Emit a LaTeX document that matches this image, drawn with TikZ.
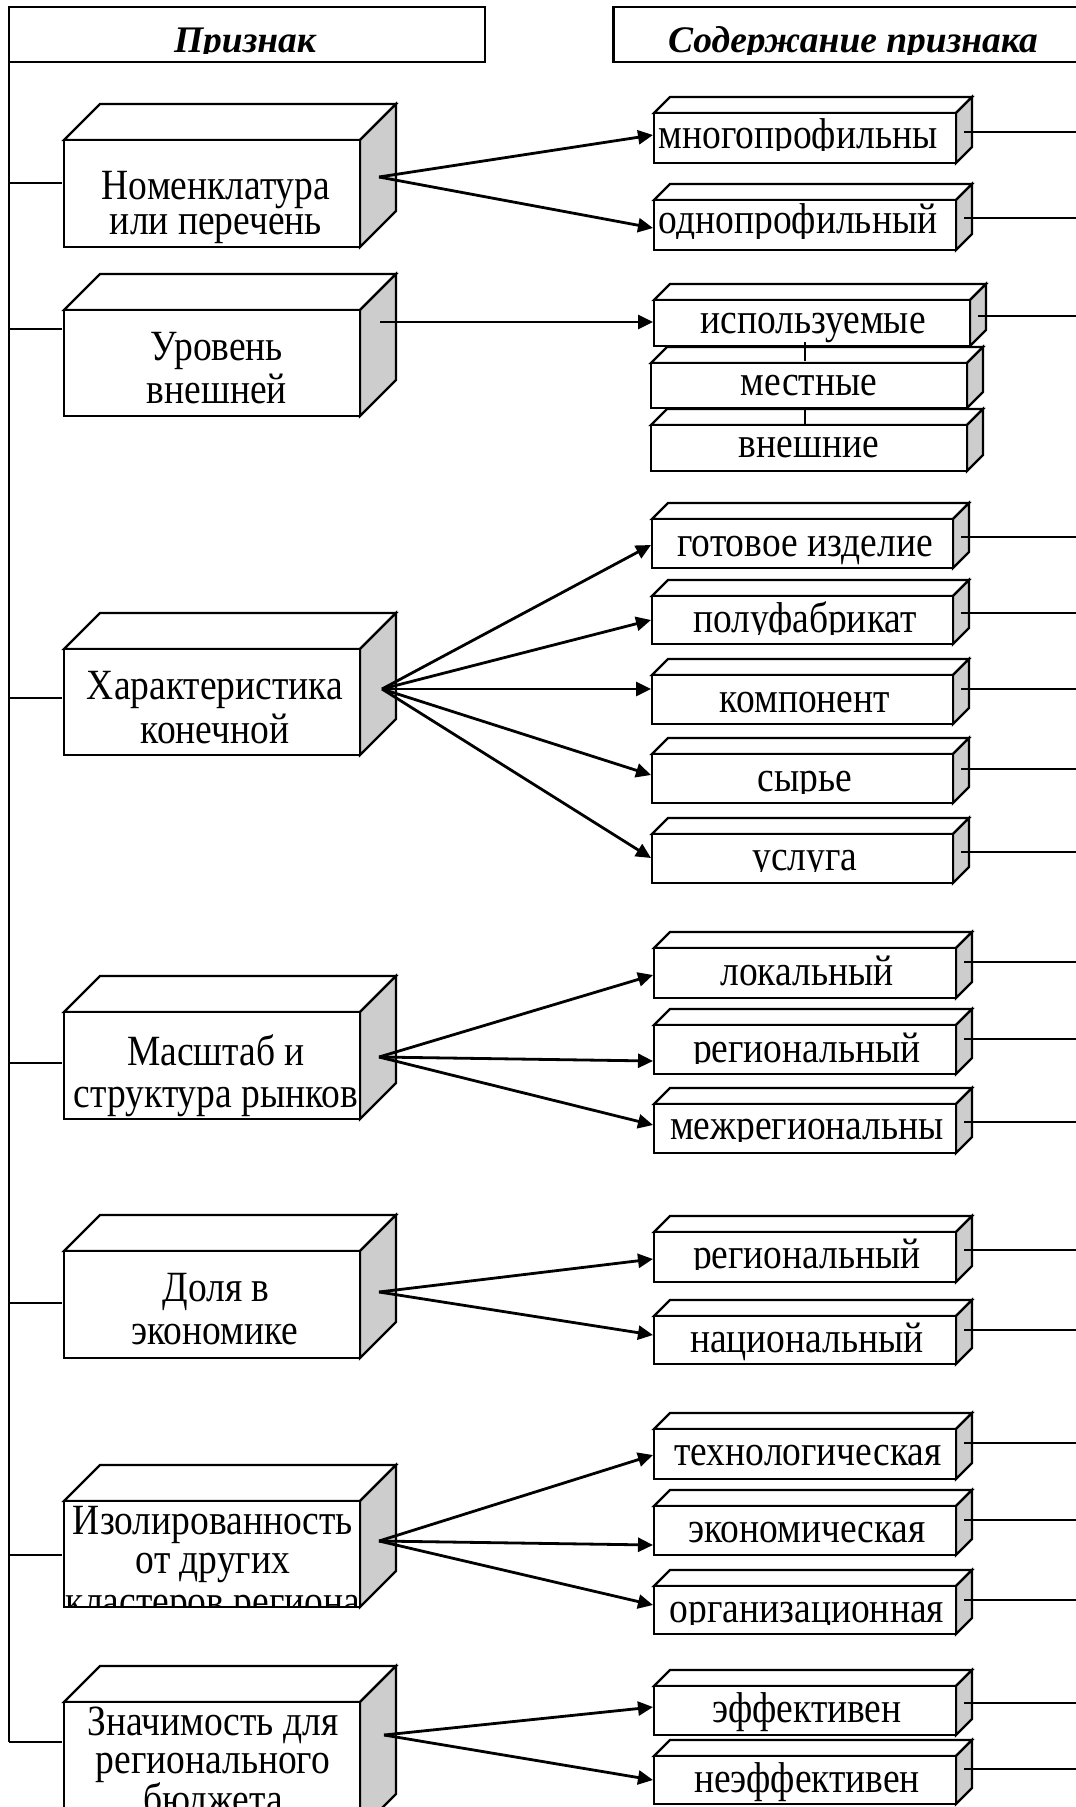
\documentclass[tikz,border=0pt]{standalone}
\usepackage{fontspec}
\setmainfont{Liberation Serif}
\usepackage{graphicx}
\usetikzlibrary{arrows.meta}
\definecolor{sidegray}{RGB}{205,205,205}
\newcommand\st[1]{\scalebox{1}[1.15]{#1}}
\newcommand\hst[1]{\scalebox{1}[1.0]{#1}}
% cube: x1, top, x2, bottom, depth
\newcommand\cube[5]{%
  \filldraw[box,fill=white] (#1,#2) -- (#1+#5,#2-#5) -- (#3+#5,#2-#5) -- (#3,#2) -- cycle;
  \filldraw[box,fill=sidegray] (#3,#2) -- (#3+#5,#2-#5) -- (#3+#5,#4-#5) -- (#3,#4) -- cycle;
  \filldraw[box,fill=white] (#1,#2) rectangle (#3,#4);}
% right box: name, x1, top, x2, bottom, clip, cx, base, text
\newcommand\rbox[9]{%
  \cube{#2}{#3}{#4}{#5}{16}
  \begin{scope}\clip (#2,#3) rectangle (#4,#6);
    \node[lbl] (#1) at (#7,#8) {\st{#9}};
  \end{scope}}
% right connectors: name, x1, tip y, x2, line y, source
\newcommand\rconn[6]{%
  \coordinate (#1w) at (#2-1,#3);
  \coordinate (#1e) at (#4+8,#5);
  \coordinate (#1x) at (1076,#5);
  \draw[arr] (#6) -- (#1w);
  \draw[thinl] (#1e) -- (#1x);}
\begin{document}
\begin{tikzpicture}[x=1pt,y=-1pt,
  box/.style={draw=black,line width=2.2pt},
  thinl/.style={draw=black,line width=2pt},
  arr/.style={draw=black,line width=2.8pt,-{Triangle[length=15pt,width=14pt]}},
  lbl/.style={inner sep=0pt,font=\fontsize{37.5}{37.5}\selectfont,anchor=base},
  hdr/.style={inner sep=0pt,font=\fontsize{37.5}{37.5}\selectfont\bfseries\itshape,anchor=base}]
\useasboundingbox (0,0) rectangle (1076,1807);

% headers
\draw[box,fill=white] (8.6,7) rectangle (485,62);
\begin{scope}\clip (8.6,7) rectangle (485,53.5);
  \node[hdr] (h1) at (245,52) {\hst{Признак}};
\end{scope}
\draw[box,fill=white] (613.5,7) rectangle (1085,62);
\begin{scope}\clip (613.5,7) rectangle (1076,54);
  \node[hdr] (h2) at (853,52) {\hst{Содержание признака}};
\end{scope}

% main vertical line and ticks
\coordinate (vtop) at (8.6,62);
\coordinate (vbot) at (8.6,1742);
\draw[thinl] (vtop) -- (vbot);
\foreach \i/\y in {1/183,2/329,3/698,4/1063,5/1303,6/1555,7/1742}{
  \coordinate (tk\i a) at (8.6,\y);
  \coordinate (tk\i b) at (62,\y);
  \draw[thinl] (tk\i a) -- (tk\i b);
}

% left boxes
\cube{64}{140}{360}{247}{36}
\begin{scope}\clip (64,140) rectangle (360,247);
  \node[lbl] (l1a) at (216,199) {\st{Номенклатура}};
  \node[lbl] (l1b) at (216,234) {\st{или перечень}};
\end{scope}
\cube{64}{310}{360}{416}{36}
\begin{scope}\clip (64,310) rectangle (360,416);
  \node[lbl] (l2a) at (217,360) {\st{Уровень}};
  \node[lbl] (l2b) at (217,403) {\st{внешней}};
\end{scope}
\cube{64}{649}{360}{755}{36}
\begin{scope}\clip (64,649) rectangle (360,755);
  \node[lbl] (l3a) at (215,699) {\st{Характеристика}};
  \node[lbl] (l3b) at (215,743) {\st{конечной}};
\end{scope}
\cube{64}{1012}{360}{1119}{36}
\begin{scope}\clip (64,1012) rectangle (360,1119);
  \node[lbl] (l4a) at (216,1065) {\st{Масштаб и}};
  \node[lbl] (l4b) at (216,1107) {\st{структура рынков}};
\end{scope}
\cube{64}{1251}{360}{1358}{36}
\begin{scope}\clip (64,1251) rectangle (360,1358);
  \node[lbl] (l5a) at (216,1301) {\st{Доля в}};
  \node[lbl] (l5b) at (215,1344) {\st{экономике}};
\end{scope}
\cube{64}{1501}{360}{1607}{36}
\begin{scope}\clip (64,1501) rectangle (360,1606);
  \node[lbl] (l6a) at (213,1534) {\st{Изолированность}};
  \node[lbl] (l6b) at (213,1573) {\st{от других}};
  \node[lbl] (l6c) at (213,1615) {\st{кластеров региона}};
\end{scope}
\cube{64}{1702}{360}{1830}{36}
\begin{scope}\clip (64,1702) rectangle (360,1830);
  \node[lbl] (l7a) at (213,1735) {\st{Значимость для}};
  \node[lbl] (l7b) at (213,1773) {\st{регионального}};
  \node[lbl] (l7c) at (213,1813) {\st{бюджета}};
\end{scope}

% right boxes
\rbox{r11}{654}{113}{956}{163}{150}{798}{148}{многопрофильны}
\rbox{r12}{654}{200}{956}{250}{238}{798}{233}{однопрофильный}
\rbox{r21}{654}{300}{970}{346}{346}{813}{333}{используемые}
\rbox{r22}{651}{363}{967}{408}{408}{809}{395}{местные}
\rbox{r23}{651}{425}{967}{471}{471}{809}{457}{внешние}
\rbox{r31}{652}{519}{953}{568}{568}{805}{556}{готовое изделие}
\rbox{r32}{652}{596}{953}{644}{634}{805}{632}{полуфабрикат}
\rbox{r33}{652}{675}{953}{724}{724}{805}{712}{компонент}
\rbox{r34}{652}{754}{953}{803}{793}{805}{791}{сырье}
\rbox{r35}{652}{834}{953}{883}{871}{805}{870}{услуга}
\rbox{r41}{654}{948}{956}{998}{998}{807}{985}{локальный}
\rbox{r42}{654}{1025}{956}{1074}{1063}{807}{1062}{региональный}
\rbox{r43}{654}{1104}{956}{1153}{1141}{807}{1139}{межрегиональны}
\rbox{r51}{654}{1232}{956}{1282}{1269}{807}{1268}{региональный}
\rbox{r52}{654}{1316}{956}{1364}{1364}{807}{1352}{национальный}
\rbox{r61}{654}{1429}{956}{1479}{1479}{808}{1465}{технологическая}
\rbox{r62}{654}{1506}{956}{1555}{1555}{807}{1542}{экономическая}
\rbox{r63}{654}{1586}{956}{1634}{1624}{807}{1622}{организационная}
\rbox{r71}{654}{1686}{956}{1735}{1735}{807}{1722}{эффективен}
\rbox{r72}{654}{1756}{956}{1804}{1804}{807}{1792}{неэффективен}

% links inside stacked group
\coordinate (u1a) at (805,342); \coordinate (u1b) at (805,361);
\coordinate (u2a) at (805,408); \coordinate (u2b) at (805,426);
\draw[thinl] (u1a) -- (u1b);
\draw[thinl] (u2a) -- (u2b);

% sources
\coordinate (s1) at (379,177);
\coordinate (s2) at (380,322);
\coordinate (s3) at (382,689);
\coordinate (s4) at (379,1057);
\coordinate (s5) at (379,1292);
\coordinate (s6) at (379,1541);
\coordinate (s7) at (384,1735);

\rconn{r11}{654}{135}{956}{132}{s1}
\rconn{r12}{654}{228}{956}{218}{s1}
\rconn{r21}{654}{322}{970}{316}{s2}
\rconn{r31}{652}{545}{953}{537}{s3}
\rconn{r32}{652}{620}{953}{613}{s3}
\rconn{r33}{652}{689}{953}{689}{s3}
\rconn{r34}{652}{775}{953}{769}{s3}
\rconn{r35}{652}{858}{953}{852}{s3}
\rconn{r41}{654}{975}{956}{962}{s4}
\rconn{r42}{654}{1061}{956}{1039}{s4}
\rconn{r43}{654}{1125}{956}{1122}{s4}
\rconn{r51}{654}{1259}{956}{1250}{s5}
\rconn{r52}{654}{1335}{956}{1330}{s5}
\rconn{r61}{654}{1455}{956}{1443}{s6}
\rconn{r62}{654}{1545}{956}{1520}{s6}
\rconn{r63}{654}{1605}{956}{1600}{s6}
\rconn{r71}{654}{1707}{956}{1703}{s7}
\rconn{r72}{654}{1780}{956}{1769}{s7}
\end{tikzpicture}
\end{document}
